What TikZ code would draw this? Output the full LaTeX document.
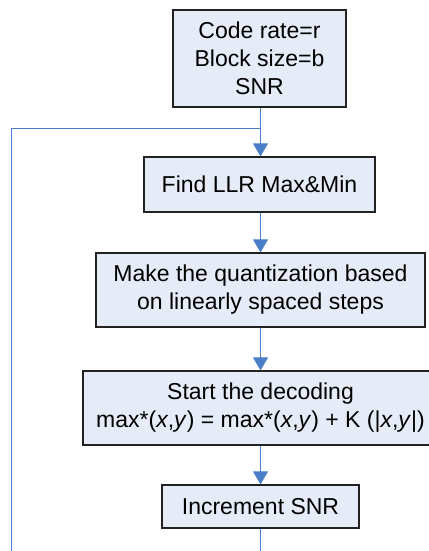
\documentclass[tikz,border=0pt]{standalone}
\usepackage{fontspec}
\setmainfont{Liberation Sans}
\usetikzlibrary{arrows.meta}
\definecolor{boxfill}{HTML}{E6ECF7}
\definecolor{flowblue}{HTML}{4A7EC7}
\definecolor{boxline}{HTML}{222222}
\begin{document}
\begin{tikzpicture}[x=1pt,y=-1pt,
  stepbox/.style={draw=boxline,line width=1.2pt,fill=boxfill,inner sep=0pt,align=center,
    font=\fontsize{23}{28}\selectfont},
  flow/.style={draw=flowblue,line width=1pt},
  flowarrow/.style={flow,-{Triangle[width=15pt,length=13pt]}}]
\useasboundingbox (0,0) rectangle (428,551);
\node[stepbox,minimum width=173pt,minimum height=97pt] (b1) at (259.5,58.5) {Code rate=r\\Block size=b\\SNR};
\node[stepbox,minimum width=231pt,minimum height=55pt] (b2) at (259.5,184.5) {Find LLR Max\&Min};
\node[stepbox,minimum width=329pt,minimum height=74pt] (b3) at (260.5,290) {Make the quantization based\\on linearly spaced steps};
\node[stepbox,minimum width=355pt,minimum height=74pt] (b4) at (260.5,408) {Start the decoding\\max*(\textit{x},\textit{y}) = max*(\textit{x},\textit{y}) + K (|\textit{x},\textit{y}|)};
\node[stepbox,minimum width=197pt,minimum height=43pt] (b5) at (260.5,506.5) {Increment SNR};
\coordinate (j) at (260.5,128);
\coordinate (lt) at (11.7,128);
\coordinate (lb) at (11.7,552);
\coordinate (bb) at (260.5,552);
\draw[flowarrow] (b1.south -| j) -- (b2.north -| j);
\draw[flowarrow] (b2.south -| j) -- (b3.north -| j);
\draw[flowarrow] (b3.south -| j) -- (b4.north -| j);
\draw[flowarrow] (b4.south -| j) -- (b5.north -| j);
\draw[flow] (j) -- (lt) -- (lb);
\draw[flow] (b5.south -| j) -- (bb);
\end{tikzpicture}
\end{document}
